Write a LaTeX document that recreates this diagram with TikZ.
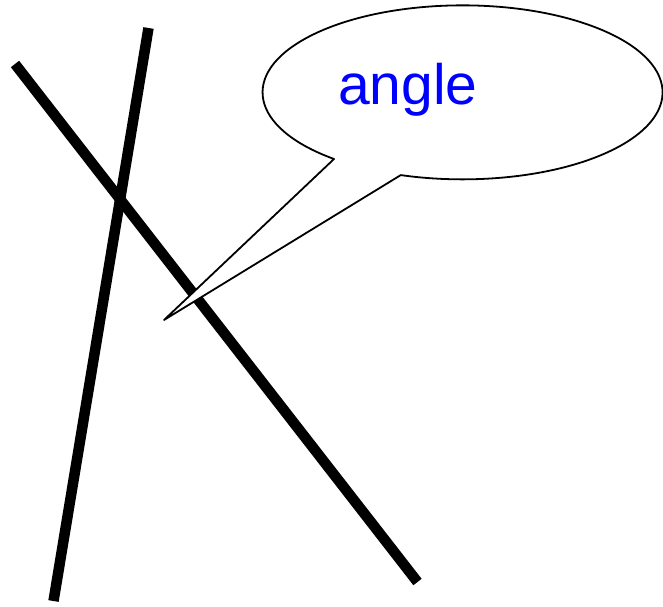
\documentclass[tikz,border=0pt]{standalone}
\usepackage{fontspec}
\setmainfont{Liberation Sans}
\tikzset{
  stick/.style={line width=10.5pt, line cap=butt, black},
  bubble/.style={draw=black, line width=1.8pt, fill=white, line join=round},
  bubbletext/.style={text=blue, font=\fontsize{57pt}{57pt}\selectfont, inner sep=0pt, anchor=base west}
}
\begin{document}
\begin{tikzpicture}[x=1pt,y=1pt]
\useasboundingbox (0,0) rectangle (663,606);
\coordinate (a1) at (148.5,578);
\coordinate (a2) at (53.5,5);
\coordinate (b1) at (15,542);
\coordinate (b2) at (417.5,24);
\draw[stick] (a1) -- (a2);
\draw[stick] (b1) -- (b2);
\coordinate (tip) at (164,286);
\coordinate (p1) at (334,447);
\path[bubble] (tip) -- (p1) arc[start angle=-130, end angle=-468, x radius=200pt, y radius=87pt] -- cycle;
\node[bubbletext] (label) at (338,501) {angle};
\end{tikzpicture}
\end{document}
